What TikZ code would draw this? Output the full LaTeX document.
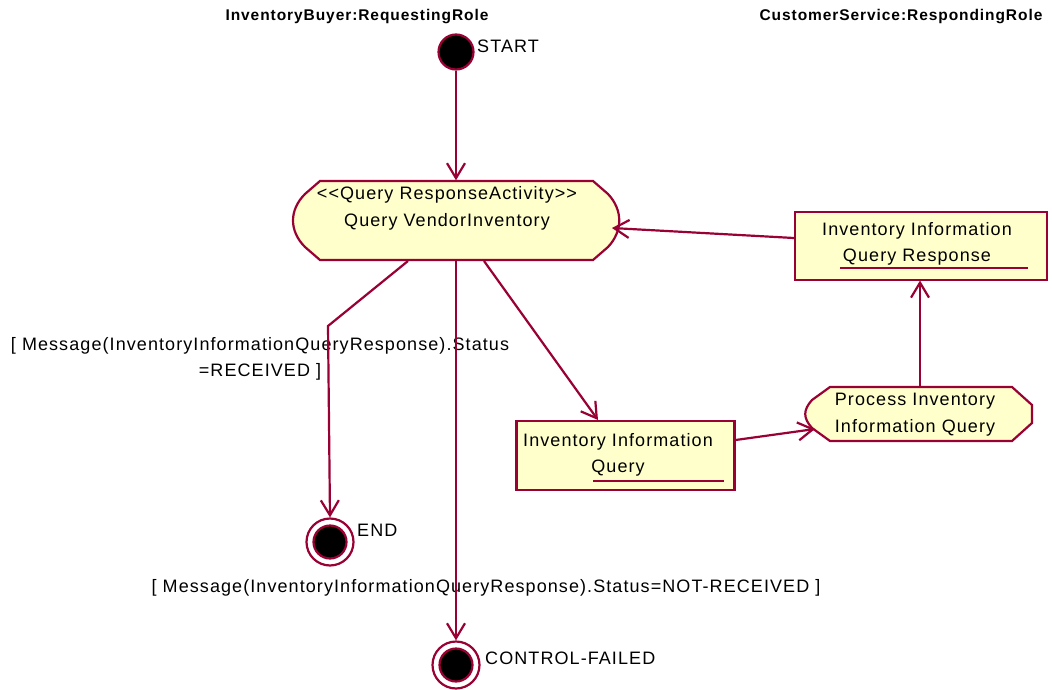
\documentclass[tikz,border=0pt]{standalone}
\usepackage{fontspec}
\setmainfont{Liberation Sans}[LetterSpace=6]
\usetikzlibrary{arrows.meta}
\definecolor{umlred}{RGB}{153,0,51}
\definecolor{umlfill}{RGB}{255,255,204}
\tikzset{
  conn/.style={draw=umlred, line width=2.2pt, -{Straight Barb[length=15pt,width=18pt,line width=2.2pt]}},
  outline/.style={draw=umlred, line width=2.2pt, fill=umlfill},
  txt/.style={font=\fontsize{18}{26.5}\selectfont, inner sep=0pt, align=center},
  head/.style={font=\fontsize{15.5}{17}\selectfont\bfseries, inner sep=0pt},
  ul/.style={draw=umlred, line width=2.2pt},
}
\begin{document}
\begin{tikzpicture}[x=1pt,y=-1pt]
\useasboundingbox (0,0) rectangle (1052,690);
% headers
\node[head] (h1) at (357,17) {InventoryBuyer:RequestingRole};
\node[head] (h2) at (901,17) {CustomerService:RespondingRole};

% start
\node[circle, draw=umlred, line width=2.2pt, fill=black, minimum size=35pt, inner sep=0pt] (start) at (456,52) {};
\node[txt, anchor=west] (startl) at (477,46) {START};

% main activity
\node[minimum width=330pt, minimum height=80pt, inner sep=0pt] (qa) at (456,220.5) {};
\draw[outline] (320,181) -- (593,181) -- (608,194) .. controls (623,210) and (623,231) .. (608,247) -- (593,260) -- (320,260) -- (305,247) .. controls (289,231) and (289,210) .. (305,194) -- cycle;
\node[txt] (qat) at (447,208.5) {{<}{<}Query ResponseActivity{>}{>}\\Query VendorInventory};

% IIQ rectangle
\node[outline, minimum width=218pt, minimum height=69pt, inner sep=0pt] (iiq) at (625.5,455.5) {};
\node[txt] (iiqt) at (618,455) {Inventory Information\\Query};
\draw[ul] (593,481) -- (724,481);

% IIQR rectangle
\node[outline, minimum width=252pt, minimum height=68pt, inner sep=0pt] (iiqr) at (921,246) {};
\node[txt] (iiqrt) at (917,244) {Inventory Information\\Query Response};
\draw[ul] (840,268) -- (1028,268);

% process
\node[minimum width=226pt, minimum height=55pt, inner sep=0pt] (proc) at (919,414) {};
\draw[outline] (830,387) -- (1012,387) -- (1032,405) -- (1032,423) -- (1012,441) -- (830,441) -- (812,428) .. controls (803,418) and (803,410) .. (812,400) -- cycle;
\node[txt] (proct) at (915,414.5) {Process Inventory\\Information Query};

% END
\node[circle, draw=umlred, line width=2.2pt, fill=white, minimum size=47pt, inner sep=0pt] (endo) at (330,542) {};
\node[circle, draw=umlred, line width=2.2pt, fill=black, minimum size=33pt, inner sep=0pt] (endi) at (330,542) {};
\node[txt, anchor=west] (endl) at (357,530) {END};

% CONTROL-FAILED
\node[circle, draw=umlred, line width=2.2pt, fill=white, minimum size=47pt, inner sep=0pt] (cfo) at (456,665) {};
\node[circle, draw=umlred, line width=2.2pt, fill=black, minimum size=33pt, inner sep=0pt] (cfi) at (456,665) {};
\node[txt, anchor=west] (cfl) at (485,658) {CONTROL-FAILED};

% guard labels
\node[txt] (g1) at (260,359) {[ Message(InventoryInformationQueryResponse).Status\\=RECEIVED ]};
\node[txt] (g2) at (486,588) {[ Message(InventoryInformationQueryResponse).Status=NOT-RECEIVED ]};

% connectors
\draw[conn] (start.south) -- (qa.north);
\coordinate (bend) at (328,326);
\draw[conn] (408,261) -- (bend) -- (endo.north);
\draw[conn] (456,261) -- (cfo.north);
\draw[conn] (484,261) -- (598,420);
\draw[conn] (iiq.east |- 0,440) -- (815,429);
\draw[conn] (proc.north -| 920,0) -- (920,280.5);
\draw[conn] (iiqr.west |- 0,238) -- (612,228);
\end{tikzpicture}
\end{document}
